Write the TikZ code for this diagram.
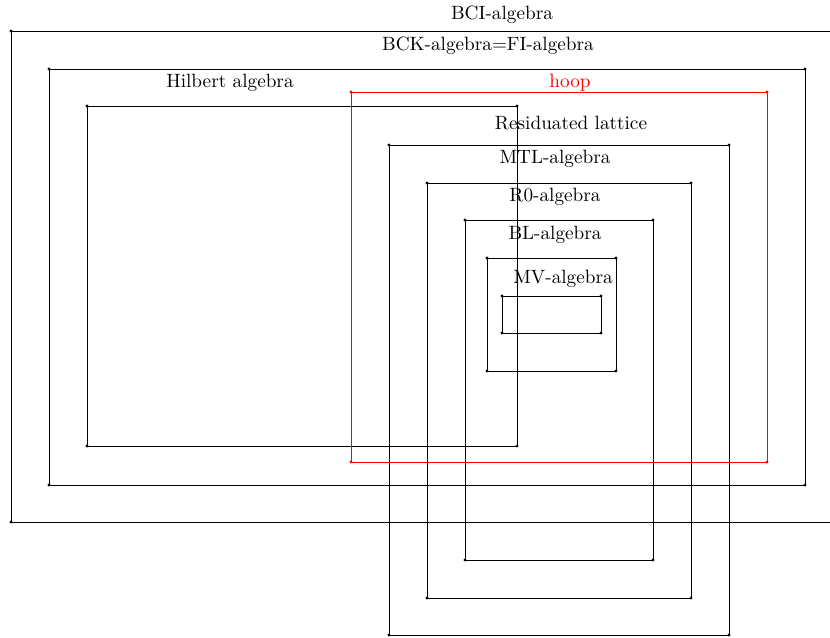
\documentclass[tikz,border=0pt]{standalone}
\tikzset{
  lbl/.style={inner sep=1pt},
  dot/.style={fill=black},
}
\begin{document}
\begin{tikzpicture}[x=0.52pt,y=-0.52pt,line width=0.45pt]
  \useasboundingbox (0,0) rectangle (830,638);
  \clip (0,0) rectangle (830,638);
  % Algebra classes as boxes
  \foreach \xa/\ya/\xb/\yb in {11/31/860/522, 49/69/805/485, 87/106/517/446,
      389/145/729/635, 427/183/691/598, 465/220/653/560, 487/258/616/371,
      502/296/601/333}{
    \draw (\xa,\ya) rectangle (\xb,\yb);
    \foreach \p in {(\xa,\ya),(\xb,\ya),(\xa,\yb),(\xb,\yb)}
      \fill \p circle (0.8pt);
  }
  % hoop
  \draw[red] (351,92) rectangle (767,462);
  \foreach \p in {(351,92),(767,92),(351,462),(767,462)}
    \fill[red] \p circle (0.8pt);
  % Labels
  \node[lbl] (bci) at (502,15) {BCI-algebra};
  \node[lbl] (bck) at (488,46) {BCK-algebra=FI-algebra};
  \node[lbl] (hil) at (230,83) {Hilbert algebra};
  \node[lbl,red] (hoop) at (570,83) {hoop};
  \node[lbl] (res) at (571,123) {Residuated lattice};
  \node[lbl] (mtl) at (555,159) {MTL-algebra};
  \node[lbl] (rzero) at (555,197) {R0-algebra};
  \node[lbl] (bl) at (555,235) {BL-algebra};
  \node[lbl] (mv) at (563,279) {MV-algebra};
\end{tikzpicture}
\end{document}
